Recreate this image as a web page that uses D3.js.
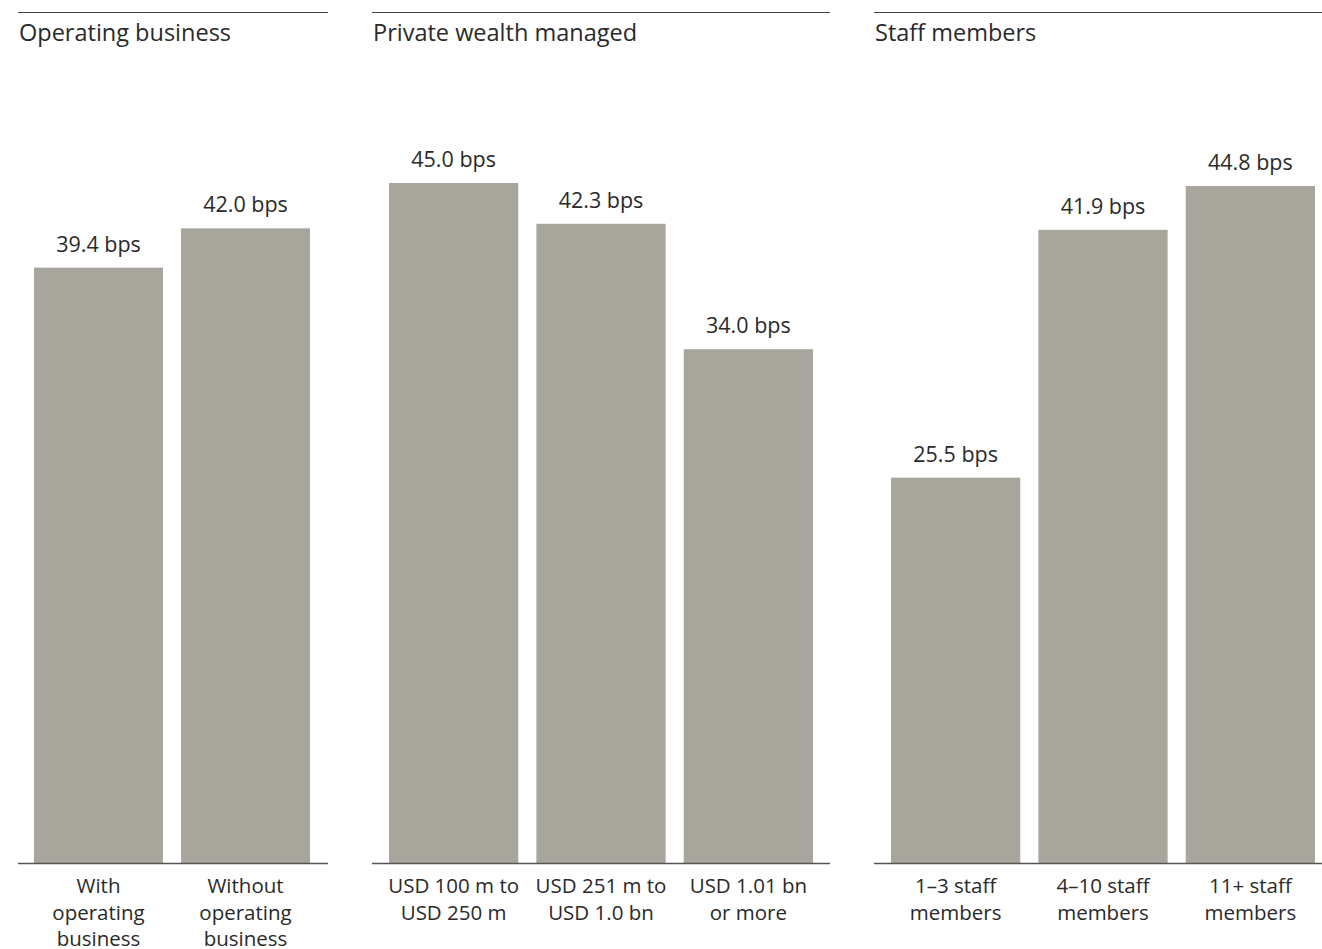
<!DOCTYPE html>
<html><head><meta charset="utf-8">
<script src="https://cdn.jsdelivr.net/npm/d3@7"></script>
<style>
html,body{margin:0;padding:0;background:#fff;}
svg text{font-family:"Open Sans","Noto Sans",sans-serif;fill:#2a2a2a;font-weight:400;}
</style></head>
<body><svg id="c" width="1322" height="949"></svg>
<script>
const panelTitles = ["Operating business", "Private wealth managed", "Staff members"];
const cat1 = [["With","operating","business"],["Without","operating","business"]];
const cat2 = [["USD 100 m to","USD 250 m"],["USD 251 m to","USD 1.0 bn"],["USD 1.01 bn","or more"]];
const cat3 = [["1–3 staff","members"],["4–10 staff","members"],["11+ staff","members"]];
const val1 = [39.4, 42.0];
const val2 = [45.0, 42.3, 34.0];
const val3 = [25.5, 41.9, 44.8];

const panels = [
  {title: panelTitles[0], cats: cat1, vals: val1, x0: 18, x1: 328, b0: 34, b1: 310},
  {title: panelTitles[1], cats: cat2, vals: val2, x0: 372, x1: 830, b0: 389, b1: 813},
  {title: panelTitles[2], cats: cat3, vals: val3, x0: 874, x1: 1322, b0: 891, b1: 1315}
];

const svg = d3.select("#c");
const baseY = 863;
const y = d3.scaleLinear().domain([0, 45]).range([baseY, 183]);

panels.forEach(p => {
  const g = svg.append("g");
  g.append("line").attr("x1", p.x0).attr("x2", p.x1).attr("y1", 12.5).attr("y2", 12.5)
    .attr("stroke", "#444").attr("stroke-width", 1);
  g.append("text").attr("x", p.x0 + 1).attr("y", 41).attr("font-size", 23.5).text(p.title);

  const x = d3.scaleBand().domain(p.vals.map((d, i) => i)).range([p.b0, p.b1])
    .paddingInner(0.123).paddingOuter(0);

  g.selectAll("rect").data(p.vals).join("rect")
    .attr("x", (d, i) => x(i)).attr("width", x.bandwidth())
    .attr("y", d => y(d)).attr("height", d => baseY - y(d))
    .attr("fill", "#a8a59c");

  g.selectAll("text.v").data(p.vals).join("text").attr("class", "v")
    .attr("x", (d, i) => x(i) + x.bandwidth() / 2).attr("y", d => y(d) - 16)
    .attr("text-anchor", "middle").attr("font-size", 21.5)
    .text(d => d.toFixed(1) + " bps");

  g.append("line").attr("x1", p.x0).attr("x2", p.x1).attr("y1", baseY + 0.5).attr("y2", baseY + 0.5)
    .attr("stroke", "#555").attr("stroke-width", 1.3);

  p.cats.forEach((lines, i) => {
    const t = g.append("text").attr("text-anchor", "middle").attr("font-size", 20.5)
      .attr("x", x(i) + x.bandwidth() / 2).attr("y", 893);
    lines.forEach((ln, j) => t.append("tspan").attr("x", x(i) + x.bandwidth() / 2)
      .attr("y", 893 + j * 26.5).text(ln));
  });
});
</script></body></html>
